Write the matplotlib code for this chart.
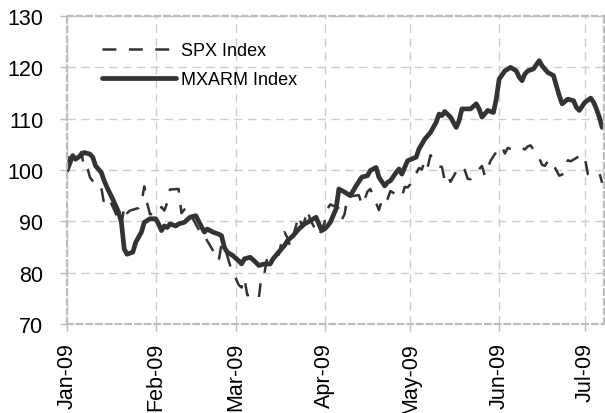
import numpy as np
import pandas as pd
import matplotlib
matplotlib.use("Agg")
import matplotlib.pyplot as plt
import matplotlib.dates as mdates

plt.rcParams['font.family'] = ['Liberation Sans', 'DejaVu Sans']
plt.rcParams['lines.scale_dashes'] = False

# SPX Index, rebased to 100
spx_dates = [
    "01-01", "01-02", "01-05", "01-06", "01-07", "01-08", "01-09", "01-12", "01-13", "01-14",
    "01-15", "01-16", "01-20", "01-21", "01-22", "01-23", "01-26", "01-27", "01-28", "01-29", "01-30",
    "02-02", "02-03", "02-04", "02-05", "02-06", "02-09", "02-10", "02-11", "02-12", "02-13",
    "02-17", "02-18", "02-19", "02-20", "02-23", "02-24", "02-25", "02-26", "02-27",
    "03-02", "03-03", "03-04", "03-05", "03-06", "03-09", "03-10", "03-11", "03-12", "03-13",
    "03-16", "03-17", "03-18", "03-19", "03-20", "03-23", "03-24", "03-25", "03-26", "03-27",
    "03-30", "03-31",
    "04-01", "04-02", "04-03", "04-06", "04-07", "04-08", "04-09", "04-13", "04-14", "04-15",
    "04-16", "04-17", "04-20", "04-21", "04-22", "04-23", "04-24", "04-27", "04-28", "04-29", "04-30",
    "05-01", "05-04", "05-05", "05-06", "05-07", "05-08", "05-11", "05-12", "05-13", "05-14",
    "05-15", "05-18", "05-19", "05-20", "05-21", "05-22", "05-26", "05-27", "05-28", "05-29",
    "06-01", "06-02", "06-03", "06-04", "06-05", "06-08", "06-09", "06-10", "06-11", "06-12",
    "06-15", "06-16", "06-17", "06-18", "06-19", "06-22", "06-23", "06-24", "06-25", "06-26",
    "06-29", "06-30",
    "07-01", "07-02", "07-06", "07-07",
]
spx_values = [
    100.0, 103.2, 102.7, 103.5, 100.4, 100.7, 98.6, 96.3, 96.5, 93.3,
    93.4, 94.1, 89.1, 93.0, 91.6, 92.1, 92.6, 93.6, 96.8, 93.6, 91.4,
    91.4, 92.8, 92.1, 93.6, 96.2, 96.3, 91.6, 92.3, 92.5, 91.5,
    87.4, 87.3, 86.2, 85.3, 82.3, 85.6, 84.7, 83.3, 81.4,
    77.6, 77.1, 78.9, 75.6, 75.7, 74.9, 79.7, 79.9, 83.1, 83.8,
    83.5, 86.1, 87.9, 86.8, 85.1, 91.1, 89.2, 90.1, 92.2, 90.3,
    87.2, 88.3,
    89.8, 92.4, 93.3, 92.5, 90.3, 91.4, 94.8, 95.1, 93.2, 94.3,
    95.8, 96.3, 92.2, 94.1, 93.4, 94.3, 95.9, 94.9, 94.7, 96.7, 96.6,
    97.2, 100.4, 100.1, 101.8, 100.5, 102.9, 100.7, 100.6, 97.9, 98.9,
    97.7, 100.7, 100.5, 100.0, 98.3, 98.2, 100.8, 98.9, 100.4, 101.8,
    104.4, 104.6, 103.2, 104.3, 104.1, 104.0, 104.3, 104.0, 104.6, 104.8,
    102.3, 101.0, 100.8, 101.7, 102.0, 98.9, 99.1, 99.7, 101.9, 101.7,
    102.7, 101.8,
    102.2, 99.2, 99.5, 97.5,
]

# MXARM Index, rebased to 100
mxarm_dates = [
    "01-01", "01-03", "01-04", "01-05", "01-07", "01-09", "01-10", "01-11", "01-13", "01-14",
    "01-15", "01-17", "01-19", "01-20", "01-21", "01-22", "01-24", "01-25", "01-27", "01-28", "01-30",
    "02-01", "02-02", "02-03", "02-04", "02-05", "02-06", "02-08", "02-09", "02-11", "02-13",
    "02-15", "02-16", "02-18", "02-19", "02-21", "02-23", "02-24", "02-25", "02-26", "02-28",
    "03-02", "03-03", "03-04", "03-06", "03-08", "03-09", "03-11", "03-13", "03-14", "03-16",
    "03-18", "03-19", "03-21", "03-23", "03-25", "03-27", "03-29", "03-30", "03-31",
    "04-01", "04-02", "04-03", "04-05", "04-06", "04-08", "04-10", "04-12", "04-14", "04-16",
    "04-17", "04-19", "04-20", "04-22", "04-23", "04-24", "04-26", "04-27", "04-28", "04-30",
    "05-03", "05-04", "05-06", "05-08", "05-10", "05-11", "05-12", "05-13", "05-15", "05-17",
    "05-18", "05-19", "05-22", "05-24", "05-25", "05-26", "05-28", "05-30", "05-31",
    "06-01", "06-03", "06-05", "06-07", "06-08", "06-09", "06-10", "06-11", "06-13", "06-15",
    "06-16", "06-18", "06-20", "06-21", "06-22", "06-23", "06-25", "06-27", "06-28", "06-29",
    "07-01", "07-03", "07-04", "07-05", "07-06", "07-07",
]
mxarm_values = [
    99.9, 102.8, 102.1, 102.5, 103.4, 103.1, 102.5, 100.8, 99.5, 97.9,
    96.6, 94.3, 91.8, 89.8, 84.6, 83.6, 84.0, 85.9, 87.9, 89.8, 90.5,
    90.5, 89.5, 88.2, 89.1, 88.8, 89.5, 89.1, 89.5, 89.8, 90.8,
    91.1, 90.0, 87.9, 88.5, 87.9, 87.5, 87.2, 84.9, 84.0, 83.3,
    82.3, 81.7, 82.7, 83.0, 82.0, 81.4, 81.7, 81.7, 82.7, 84.0,
    85.3, 86.2, 87.2, 88.5, 89.5, 90.1, 90.8, 89.5, 88.2,
    88.5, 89.1, 89.8, 92.4, 96.3, 95.7, 95.0, 96.9, 98.6, 98.9,
    99.9, 100.5, 98.6, 96.9, 97.6, 97.9, 99.5, 100.2, 99.2, 101.8,
    102.5, 104.1, 106.0, 107.3, 109.3, 110.9, 110.6, 111.4, 110.3, 108.3,
    109.6, 111.9, 111.9, 112.9, 111.9, 110.3, 111.6, 111.2, 113.8,
    117.7, 119.3, 120.0, 119.3, 118.1, 117.4, 118.7, 119.3, 119.7, 121.3,
    120.3, 119.0, 118.4, 116.4, 114.5, 112.9, 113.8, 113.5, 112.2, 111.6,
    113.2, 114.0, 113.2, 111.9, 110.3, 108.3,
]

spx_x = pd.to_datetime(["2009-" + d for d in spx_dates])
mxarm_x = pd.to_datetime(["2009-" + d for d in mxarm_dates])

line_col = "#333333"
grid_col = "#cdcdcd"
frame_col = "#bdbdbd"

fig = plt.figure(figsize=(6.05, 4.14), dpi=100)
ax = fig.add_axes([67 / 605, 1 - 325 / 414, 536.6 / 605, 308 / 414])

ax.plot(spx_x, spx_values, color=line_col, lw=1.8, dashes=(10, 9),
        dash_capstyle="butt", label="SPX Index")
ax.plot(mxarm_x, mxarm_values, color=line_col, lw=3.4,
        solid_capstyle="round", solid_joinstyle="round", label="MXARM Index")

ax.set_ylim(70, 130)
ax.set_yticks(np.arange(70, 131, 10))
ax.set_xlim(pd.Timestamp("2009-01-01"), pd.Timestamp("2009-07-07 12:00"))
ax.xaxis.set_major_locator(mdates.MonthLocator())
ax.xaxis.set_major_formatter(mdates.DateFormatter("%b-%y"))
plt.setp(ax.get_xticklabels(), rotation=90)

ax.grid(True, color=grid_col, lw=1.0, dashes=(6, 4))
ax.set_axisbelow(True)
for s in ax.spines.values():
    s.set_color(frame_col)
    s.set_linewidth(1.6)
    s.set_linestyle((0, (4, 3)))

ax.tick_params(axis="both", colors=frame_col, length=5, width=1.0,
               labelsize=15.5, labelcolor="black")
ax.tick_params(axis="y", pad=12)
ax.tick_params(axis="x", pad=8)

ax.legend(loc="upper left", bbox_to_anchor=(102 / 605, 1 - 43 / 414),
          bbox_transform=fig.transFigure, frameon=False, fontsize=13,
          handlelength=4.1, handletextpad=0.28, labelspacing=0.68,
          borderpad=0, borderaxespad=0)

fig.savefig("out.png", dpi=100)
